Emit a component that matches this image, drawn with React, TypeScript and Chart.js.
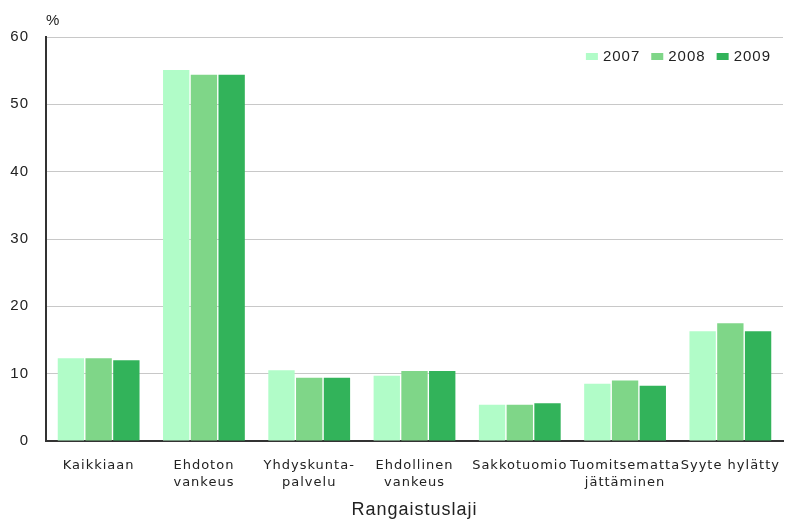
import React, { useEffect, useRef } from "react";
import { Chart, registerables } from "chart.js";

Chart.register(...registerables);

const categories: (string | string[])[] = [
  "Kaikkiaan",
  ["Ehdoton", "vankeus"],
  ["Yhdyskunta-", "palvelu"],
  ["Ehdollinen", "vankeus"],
  "Sakkotuomio",
  ["Tuomitsematta", "jättäminen"],
  "Syyte hylätty",
];
const seriesNames = ["2007", "2008", "2009"];
const values2007 = [12.3, 55.1, 10.5, 9.7, 5.4, 8.5, 16.3];
const values2008 = [12.3, 54.4, 9.4, 10.4, 5.4, 9.0, 17.5];
const values2009 = [12.0, 54.4, 9.4, 10.4, 5.6, 8.2, 16.3];
const seriesColors = ["#b1fcc8", "#7fd688", "#32b35a"];
const yTicks = [0, 10, 20, 30, 40, 50, 60];

const FONT_MAIN = "'Liberation Sans', Arial, sans-serif";
const FONT_TICK = "'DejaVu Sans', Verdana, sans-serif";

const spacingPlugin = {
  id: "spacing",
  beforeInit(chart: any) {
    (chart.ctx as any).letterSpacing = "1px";
  },
  beforeUpdate(chart: any) {
    (chart.ctx as any).letterSpacing = "1px";
  },
  beforeDraw(chart: any) {
    (chart.ctx as any).letterSpacing = "1px";
  },
};

const extrasPlugin = {
  id: "extras",
  afterDraw(chart: any) {
    const ctx = chart.ctx;
    const area = chart.chartArea;
    ctx.save();
    ctx.letterSpacing = "1px";
    ctx.fillStyle = "#222";
    ctx.font = `15px ${FONT_MAIN}`;
    ctx.textBaseline = "middle";
    ctx.textAlign = "left";
    ctx.fillText("%", area.left, 21);
    // legend, right aligned
    const boxW = 12, boxH = 7, gapBT = 5, gapItems = 11;
    const legendY = 57;
    let x = area.right - 12;
    const items = chart.data.datasets.map((d: any) => ({ label: d.label, color: d.backgroundColor }));
    for (let i = items.length - 1; i >= 0; i--) {
      const w = ctx.measureText(items[i].label).width;
      const textX = x - w;
      ctx.fillStyle = "#222";
      ctx.fillText(items[i].label, textX, legendY);
      const boxX = textX - gapBT - boxW;
      ctx.fillStyle = items[i].color;
      ctx.fillRect(boxX, legendY - boxH / 2 - 0.5, boxW, boxH);
      x = boxX - gapItems;
    }
    ctx.restore();
  },
};

export default function App() {
  const ref = useRef<HTMLCanvasElement | null>(null);
  useEffect(() => {
    if (!ref.current) return;
    const seriesValues = [values2007, values2008, values2009];
    const chart = new Chart(ref.current, {
      type: "bar",
      data: {
        labels: categories,
        datasets: seriesNames.map((name, i) => ({
          label: name,
          data: seriesValues[i],
          backgroundColor: seriesColors[i],
          borderWidth: 0,
          barPercentage: 0.95,
          categoryPercentage: 0.79,
        })),
      },
      options: {
        animation: false,
        responsive: false,
        maintainAspectRatio: false,
        layout: { padding: { top: 37, right: 2, left: 0, bottom: 0 } },
        plugins: {
          legend: { display: false },
          tooltip: { enabled: false },
        },
        scales: {
          x: {
            grid: { display: false, drawTicks: false },
            border: { display: true, color: "#333", width: 2 },
            ticks: {
              color: "#222",
              font: { family: FONT_TICK, size: 13, lineHeight: 1.3 },
              padding: 16,
              maxRotation: 0,
              autoSkip: false,
            },
            title: {
              display: true,
              text: "Rangaistuslaji",
              color: "#222",
              font: { family: FONT_MAIN, size: 18, lineHeight: 1.2 },
              padding: { top: 0, bottom: 0 },
            },
            afterFit(scale: any) {
              scale.height = 80;
              scale.paddingLeft = 0;
              scale.paddingRight = 0;
            },
          },
          y: {
            min: 0,
            max: 60,
            afterBuildTicks(scale: any) {
              scale.ticks = yTicks.map((v) => ({ value: v }));
            },
            grid: { color: "#c8c8c8", lineWidth: 1, drawTicks: false },
            border: { display: true, color: "#333", width: 2 },
            ticks: {
              color: "#222",
              font: { family: FONT_MAIN, size: 15 },
              padding: 17,
            },
            afterFit(scale: any) {
              scale.width = 46;
            },
          },
        },
      },
      plugins: [spacingPlugin, extrasPlugin],
    });
    return () => chart.destroy();
  }, []);
  return (
    <div style={{ position: "absolute", left: 0, top: 0, width: 785, height: 521, background: "#fff" }}>
      <canvas ref={ref} width={785} height={521} style={{ width: 785, height: 521 }} />
    </div>
  );
}
